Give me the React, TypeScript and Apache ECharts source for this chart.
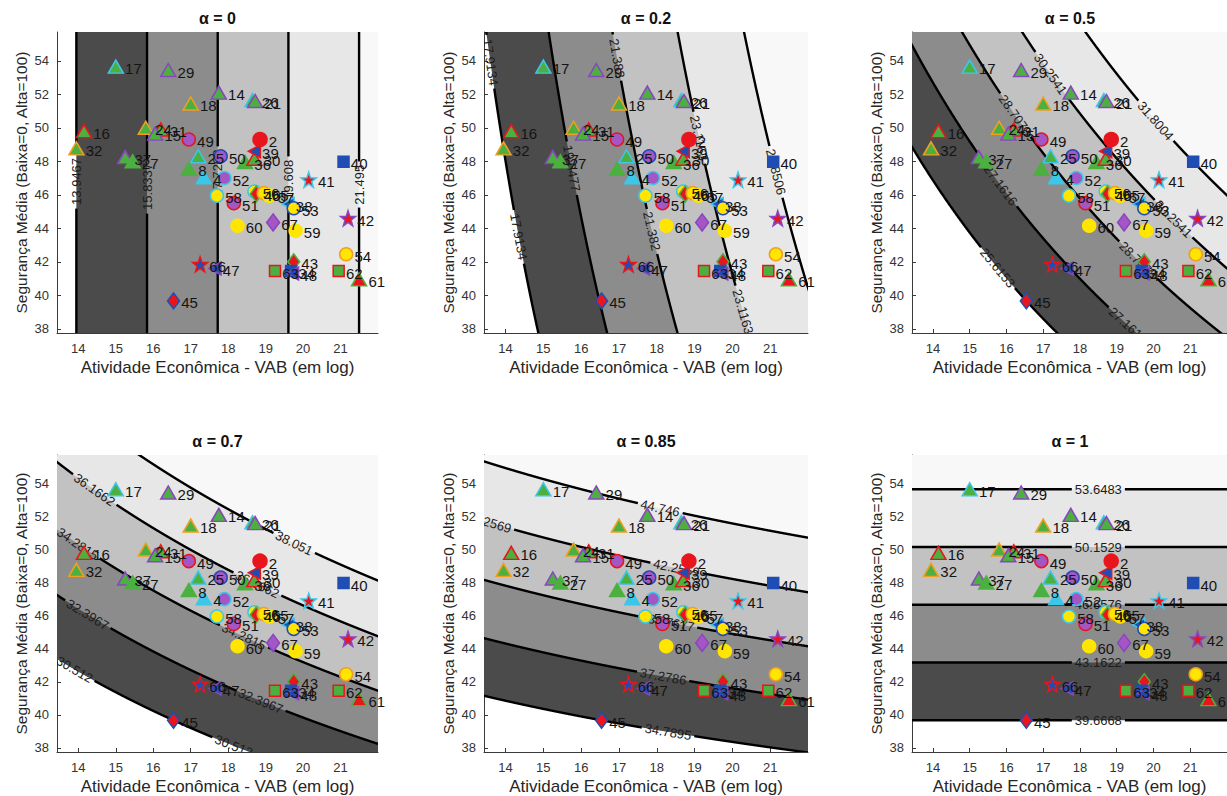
import { useEffect, useRef } from 'react';
import * as echarts from 'echarts';

// ---------------- data ----------------
const alphaValues = [0, 0.2, 0.5, 0.7, 0.85, 1];
const panelTitles = ['α = 0', 'α = 0.2', 'α = 0.5', 'α = 0.7', 'α = 0.85', 'α = 1'];

const contourLevels = [
  [13.9467, 15.8337, 17.7208, 19.608, 21.495],
  [17.9134, 19.6477, 21.382, 23.1163, 24.8506],
  [25.6153, 27.1616, 28.7078, 30.2541, 31.8004],
  [30.512, 32.3967, 34.2815, 36.1662, 38.051],
  [34.7895, 37.2786, 39.7677, 42.2569, 44.746],
  [39.6668, 43.1622, 46.6576, 50.1529, 53.6483],
];
const contourLabelText = [
  ['13.9467', '15.8337', '17.7208', '19.608', '21.495'],
  ['17.9134', '19.6477', '21.382', '23.1163', '24.8506'],
  ['25.6153', '27.1616', '28.7078', '30.2541', '31.8004'],
  ['30.512', '32.3967', '34.2815', '36.1662', '38.051'],
  ['34.7895', '37.2786', '39.7677', '42.2569', '44.746'],
  ['39.6668', '43.1622', '46.6576', '50.1529', '53.6483'],
];

const pointIds = [17, 29, 14, 18, 26, 21, 24, 31, 15, 16, 32, 37, 27, 25, 8, 4, 36, 30, 39, 2, 49, 50, 52, 58, 51, 56, 46, 55, 57, 38, 53, 67, 60, 59, 41, 40, 42, 54, 62, 61, 43, 63, 34, 48, 66, 47, 45];
const pointX = [15.0, 16.4, 17.75, 17.0, 18.65, 18.72, 15.8, 16.2, 16.05, 14.15, 13.9467, 15.25, 15.45, 17.2, 16.95, 17.35, 18.45, 18.7, 18.7, 18.85, 16.95, 17.8, 17.9, 17.7, 18.15, 18.7, 18.75, 18.95, 19.1, 19.6, 19.75, 19.2, 18.25, 19.8, 20.15, 21.08, 21.2, 21.15, 20.95, 21.495, 19.75, 19.25, 19.68, 19.72, 17.25, 17.65, 16.54];
const pointY = [53.65, 53.45, 52.1, 51.45, 51.65, 51.6, 50.0, 49.9, 49.65, 49.8, 48.77, 48.25, 48.0, 48.3, 47.55, 47.05, 47.95, 48.15, 48.6, 49.3, 49.3, 48.3, 47.0, 45.95, 45.5, 46.2, 46.05, 46.1, 45.95, 45.45, 45.2, 44.35, 44.15, 43.85, 46.9, 47.97, 44.6, 42.45, 41.45, 40.95, 42.0, 41.45, 41.45, 41.3, 41.85, 41.6, 39.6668];
const pointKind = ['triCy', 'triPu', 'triPu', 'triOr', 'triCy', 'triPu', 'triOr', 'triRd', 'triPu', 'triRd', 'triOr', 'triPu', 'triGr', 'triCy', 'triGr', 'triCyan', 'triGr', 'triRd', 'ltBlRd', 'cirRed', 'cirPuRd', 'cirPuBl', 'cirPuCy', 'cirYeCy', 'cirPuRd', 'cirYeCy', 'diaRdGr', 'cirYeOr', 'cirYe', 'ltBlCy', 'cirYeBl', 'diaPu', 'cirYe', 'cirYe', 'starRdCy', 'sqBl', 'starRdPu', 'cirYeOr', 'sqGrRd', 'triRed', 'diaRdGr', 'sqGrRd', 'sqBl', 'ltBlPu', 'starBlRd', 'ltBlPu', 'diaRdBl'];

const xTicks = [14, 15, 16, 17, 18, 19, 20, 21];
const yTicks = [38, 40, 42, 44, 46, 48, 50, 52, 54];

// ---------------- layout / styles ----------------
const X_MIN = 13.43, X_MAX = 22.0, Y_MIN = 37.75, Y_MAX = 55.72;
const panelBoxes = [
  [57, 32, 321, 301], [484, 32, 324, 301], [912, 32, 316, 301],
  [57, 455, 321, 298], [484, 455, 324, 298], [912, 455, 316, 298],
];
// label anchors: [level index, x position] (y position for alpha = 0)
const contourLabelAnchors = [
  [[0, 46.8], [1, 46.5], [2, 47.3], [3, 46.9], [4, 46.6]],
  [[0, 13.6], [0, 14.35], [1, 15.75], [2, 16.95], [2, 17.87], [3, 19.12], [3, 20.28], [4, 21.15]],
  [[0, 15.76], [1, 15.84], [1, 19.31], [2, 16.24], [2, 19.58], [3, 17.2], [3, 20.54], [4, 20.06]],
  [[0, 13.9], [0, 18.15], [1, 14.25], [1, 18.87], [2, 13.98], [2, 18.42], [3, 14.43], [3, 18.78], [4, 19.76]],
  [[0, 18.3], [1, 18.17], [2, 18.38], [3, 13.55], [3, 18.52], [4, 18.09]],
  [[0, 18.5], [1, 18.5], [2, 18.5], [3, 18.5], [4, 18.5]],
];
const bandFill = ['#4b4b4b', '#8c8c8c', '#c2c2c2', '#e7e7e7', '#f8f8f8'];

const GREEN = '#4cb040', CYAN = '#3cc6e8', PURPLE = '#8a45c0', PURPLE_C = '#a456c4', RED = '#e8161c', YELLOW = '#ffe500', ORANGE = '#f0a020', BLUE = '#1f4db4';
const STAR = 'path://M0,-10L2.35,-3.24L9.51,-3.09L3.8,1.24L5.88,8.09L0,4L-5.88,8.09L-3.8,1.24L-9.51,-3.09L-2.35,-3.24Z';
const markerStyles: Record<string, any> = {
  triCy: { symbol: 'triangle', size: [15, 13], face: GREEN, edge: CYAN },
  triPu: { symbol: 'triangle', size: [15, 13], face: GREEN, edge: PURPLE },
  triOr: { symbol: 'triangle', size: [15, 13], face: GREEN, edge: ORANGE },
  triRd: { symbol: 'triangle', size: [15, 13], face: GREEN, edge: RED },
  triGr: { symbol: 'triangle', size: [15, 13], face: GREEN, edge: GREEN },
  triCyan: { symbol: 'triangle', size: [15, 13], face: CYAN, edge: CYAN },
  triRed: { symbol: 'triangle', size: [15, 13], face: RED, edge: GREEN },
  cirRed: { symbol: 'circle', size: 14, face: RED, edge: RED },
  cirPuRd: { symbol: 'circle', size: 13, face: PURPLE_C, edge: RED },
  cirPuBl: { symbol: 'circle', size: 13, face: PURPLE_C, edge: BLUE },
  cirPuCy: { symbol: 'circle', size: 13, face: PURPLE_C, edge: CYAN },
  cirYeCy: { symbol: 'circle', size: 13, face: YELLOW, edge: CYAN },
  cirYeOr: { symbol: 'circle', size: 13, face: YELLOW, edge: ORANGE },
  cirYeBl: { symbol: 'circle', size: 13, face: YELLOW, edge: BLUE },
  cirYe: { symbol: 'circle', size: 13, face: YELLOW, edge: YELLOW },
  diaRdGr: { symbol: 'diamond', size: [12, 16], face: RED, edge: GREEN },
  diaRdBl: { symbol: 'diamond', size: [12, 16], face: RED, edge: BLUE },
  diaPu: { symbol: 'diamond', size: [13, 17], face: PURPLE_C, edge: PURPLE },
  starRdCy: { symbol: STAR, size: 15, face: RED, edge: CYAN },
  starRdPu: { symbol: STAR, size: 15, face: RED, edge: PURPLE },
  starBlRd: { symbol: STAR, size: 15, face: BLUE, edge: RED },
  sqBl: { symbol: 'rect', size: 11, face: BLUE, edge: BLUE },
  sqGrRd: { symbol: 'rect', size: 11, face: GREEN, edge: RED },
  ltBlCy: { symbol: 'triangle', size: [13, 12], face: BLUE, edge: CYAN, rotate: 90 },
  ltBlPu: { symbol: 'triangle', size: [13, 12], face: BLUE, edge: PURPLE, rotate: 90 },
  ltBlRd: { symbol: 'triangle', size: [13, 12], face: BLUE, edge: RED, rotate: 90 },
};

const FONT = '"Liberation Sans", Arial, sans-serif';
const LABEL_FS = 13;

function textWidth(t: string) {
  let w = 0;
  for (const ch of t) w += ch === '.' ? 0.278 : 0.556;
  return w * LABEL_FS;
}

function makeRenderer(p: number) {
  const a = alphaValues[p];
  const lv = contourLevels[p];
  const yOf = (c: number, x: number) => Math.pow(c / Math.pow(x, 1 - a), 1 / a);
  return (params: any, api: any) => {
    const children: any[] = [];
    // filled bands
    for (let k = 0; k < lv.length; k++) {
      let pts: number[][];
      if (a === 0) {
        const c = Math.min(Math.max(lv[k], X_MIN), X_MAX);
        pts = [[c, Y_MIN], [X_MAX, Y_MIN], [X_MAX, Y_MAX], [c, Y_MAX]];
      } else {
        pts = [];
        const N = 600;
        for (let i = 0; i <= N; i++) {
          const x = X_MIN + ((X_MAX - X_MIN) * i) / N;
          const y = Math.min(Math.max(yOf(lv[k], x), Y_MIN), Y_MAX);
          pts.push([x, y]);
        }
        pts.push([X_MAX, Y_MAX], [X_MIN, Y_MAX]);
      }
      children.push({
        type: 'polygon',
        shape: { points: pts.map((q) => api.coord(q)) },
        style: { fill: bandFill[k], stroke: null },
        silent: true,
      });
    }
    // contour lines with labels
    for (let k = 0; k < lv.length; k++) {
      const c = lv[k];
      const data: number[][] = [];
      if (a === 0) {
        for (let i = 0; i <= 300; i++) data.push([c, Y_MIN + ((Y_MAX - Y_MIN) * i) / 300]);
      } else {
        const N = 2000;
        for (let i = 0; i <= N; i++) {
          const x = X_MIN - 0.2 + ((X_MAX - X_MIN + 0.4) * i) / N;
          const y = yOf(c, x);
          if (y >= Y_MIN - 1.5 && y <= Y_MAX + 1.5) data.push([x, y]);
        }
      }
      if (data.length < 2) continue;
      const px = data.map((q) => api.coord(q));
      const s = [0];
      for (let i = 1; i < px.length; i++) {
        s.push(s[i - 1] + Math.hypot(px[i][0] - px[i - 1][0], px[i][1] - px[i - 1][1]));
      }
      const gaps: number[][] = [];
      for (const [li, anchor] of contourLabelAnchors[p]) {
        if (li !== k) continue;
        const ap = a === 0 ? [c, anchor] : [anchor, yOf(c, anchor)];
        const P = api.coord(ap);
        let idx = 0, best = Infinity;
        for (let i = 0; i < px.length; i++) {
          const d = Math.hypot(px[i][0] - P[0], px[i][1] - P[1]);
          if (d < best) { best = d; idx = i; }
        }
        const txt = contourLabelText[p][k];
        const w = textWidth(txt);
        gaps.push([s[idx] - w / 2 - 3, s[idx] + w / 2 + 3]);
        const i0 = Math.max(0, idx - 3), i1 = Math.min(px.length - 1, idx + 3);
        const dx = px[i1][0] - px[i0][0], dy = px[i1][1] - px[i0][1];
        let ang = Math.atan2(-dy, dx);
        if (ang > Math.PI / 2 + 1e-6) ang -= Math.PI;
        if (ang <= -Math.PI / 2 + 1e-6) ang += Math.PI;
        children.push({
          type: 'text',
          x: P[0],
          y: P[1],
          rotation: ang,
          z2: 10,
          silent: true,
          style: {
            text: txt, x: 0, y: 0, align: 'center', verticalAlign: 'middle',
            fill: '#1c1c1c', fontSize: LABEL_FS, fontFamily: FONT,
          },
        });
      }
      let cur: number[][] = [];
      const flush = () => {
        if (cur.length > 1) {
          children.push({
            type: 'polyline', shape: { points: cur }, silent: true, z2: 5,
            style: { stroke: '#000', lineWidth: 2.4, fill: null },
          });
        }
        cur = [];
      };
      for (let i = 0; i < px.length; i++) {
        const inGap = gaps.some((g) => s[i] > g[0] && s[i] < g[1]);
        if (inGap) flush();
        else cur.push(px[i]);
      }
      flush();
    }
    return { type: 'group', children };
  };
}

export default function App() {
  const ref = useRef<HTMLDivElement>(null);
  useEffect(() => {
    if (!ref.current) return;
    const chart = echarts.init(ref.current, null, { renderer: 'svg' });
    const grids: any[] = [], xAxes: any[] = [], yAxes: any[] = [], series: any[] = [], graphics: any[] = [];
    panelBoxes.forEach((b, i) => {
      grids.push({ left: b[0], top: b[1], width: b[2], height: b[3], containLabel: false });
      xAxes.push({
        type: 'value', gridIndex: i, min: X_MIN, max: X_MAX,
        axisLine: { show: true, onZero: false, lineStyle: { color: '#3a3a3a', width: 1 } },
        axisTick: { show: true, inside: true, length: 4, customValues: xTicks, lineStyle: { color: '#3a3a3a' } },
        axisLabel: { customValues: xTicks, color: '#333', fontSize: 13, fontFamily: FONT, margin: 9 },
        splitLine: { show: false },
        name: 'Atividade Econômica - VAB (em log)', nameLocation: 'middle', nameGap: 26,
        nameTextStyle: { fontSize: 17, color: '#262626', fontFamily: FONT },
      });
      yAxes.push({
        type: 'value', gridIndex: i, min: Y_MIN, max: Y_MAX,
        axisLine: { show: true, onZero: false, lineStyle: { color: '#3a3a3a', width: 1 } },
        axisTick: { show: true, inside: true, length: 4, customValues: yTicks, lineStyle: { color: '#3a3a3a' } },
        axisLabel: { customValues: yTicks, color: '#333', fontSize: 13, fontFamily: FONT, margin: 8 },
        splitLine: { show: false },
        name: 'Segurança Média (Baixa=0, Alta=100)', nameLocation: 'middle', nameGap: 28,
        nameTextStyle: { fontSize: 15.5, color: '#262626', fontFamily: FONT },
      });
      series.push({
        type: 'custom', xAxisIndex: i, yAxisIndex: i, clip: true, silent: true, z: 1,
        renderItem: makeRenderer(i), data: [[X_MIN, Y_MIN]],
      });
      series.push({
        type: 'scatter', xAxisIndex: i, yAxisIndex: i, z: 5, silent: true,
        data: pointIds.map((id, j) => {
          const st = markerStyles[pointKind[j]];
          return {
            name: String(id), value: [pointX[j], pointY[j]], symbol: st.symbol,
            symbolSize: st.size, symbolRotate: st.rotate || 0,
            itemStyle: { color: st.face, borderColor: st.edge, borderWidth: 1.5, opacity: 1 },
          };
        }),
        label: {
          show: true, position: 'right', distance: 1, offset: [0, 2], formatter: '{b}',
          fontSize: 15, color: '#141414', fontFamily: FONT,
        },
        emphasis: { disabled: true },
      });
      graphics.push({
        type: 'text', x: b[0] + b[2] / 2, y: b[1] - 14, silent: true,
        style: {
          text: panelTitles[i], align: 'center', verticalAlign: 'middle',
          fontSize: 16, fontWeight: 'bold', fontFamily: FONT, fill: '#111',
        },
      });
    });
    chart.setOption({
      animation: false,
      backgroundColor: '#ffffff',
      grid: grids, xAxis: xAxes, yAxis: yAxes, series, graphic: graphics,
    });
    return () => chart.dispose();
  }, []);
  return (
    <div ref={ref} style={{ position: 'absolute', left: 0, top: 0, width: 1227, height: 796, overflow: 'hidden' }} />
  );
}
